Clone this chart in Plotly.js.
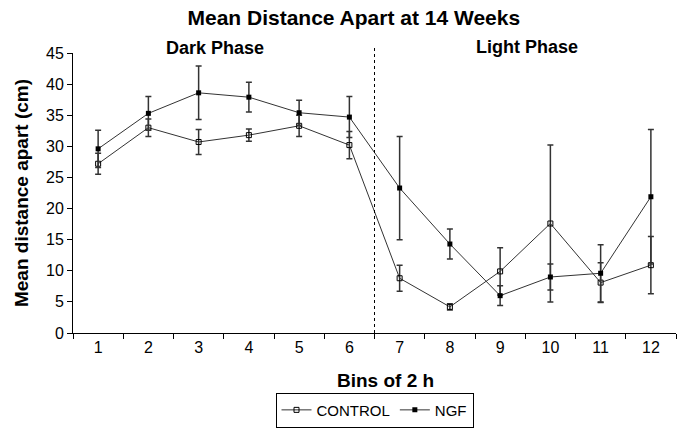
<!DOCTYPE html>
<html>
<head>
<meta charset="utf-8">
<script src="https://cdn.plot.ly/plotly-3.0.1.min.js"></script>
<style>html,body{margin:0;padding:0;background:#fff;}#chart{width:687px;height:429px;}</style>
</head>
<body>
<div id="chart"></div>
<script>
const bins = ["1","2","3","4","5","6","7","8","9","10","11","12"];
const controlMean = [27.2, 33.0, 30.7, 31.8, 33.3, 30.2, 8.8, 4.2, 9.9, 17.6, 8.1, 10.9];
const controlErr  = [1.7, 1.4, 2.0, 1.0, 1.7, 2.2, 2.1, 0.5, 3.8, 12.6, 3.2, 4.6];
const ngfMean     = [29.6, 35.3, 38.6, 37.9, 35.4, 34.7, 23.3, 14.3, 6.0, 9.0, 9.6, 21.9];
const ngfErr      = [3.0, 2.7, 4.3, 2.4, 2.0, 3.3, 8.3, 2.4, 1.6, 2.1, 4.6, 10.8];
const seriesNames = ["CONTROL", "NGF"];
const yTicks = [0,5,10,15,20,25,30,35,40,45];

const FONT = "Liberation Sans, Arial, sans-serif";

const traces = [
  {
    x: bins, y: controlMean, name: seriesNames[0], type: "scatter", mode: "lines+markers",
    line: {color: "#333", width: 1},
    marker: {symbol: "square-open", size: 5, color: "#000", line: {width: 1, color: "#000"}},
    error_y: {type: "data", array: controlErr, visible: true, color: "#333", thickness: 1.5, width: 3}
  },
  {
    x: bins, y: ngfMean, name: seriesNames[1], type: "scatter", mode: "lines+markers",
    line: {color: "#333", width: 1},
    marker: {symbol: "square", size: 5, color: "#000"},
    error_y: {type: "data", array: ngfErr, visible: true, color: "#333", thickness: 1.5, width: 3}
  }
];

const layout = {
  width: 687, height: 429,
  margin: {l: 73, r: 11, t: 53, b: 96},
  paper_bgcolor: "#fff", plot_bgcolor: "#fff",
  font: {family: FONT, color: "#000", size: 15},
  title: {text: "<b>Mean Distance Apart at 14 Weeks</b>", x: 0.515, xanchor: "center", y: 0.958, yanchor: "middle",
          font: {family: FONT, size: 21, color: "#000"}},
  showlegend: true,
  legend: {orientation: "h", x: 0.5, xanchor: "center", y: 0.044, yref: "container", yanchor: "middle",
           bordercolor: "#000", borderwidth: 1, font: {family: FONT, size: 15}, itemwidth: 30,
           tracegroupgap: 0},
  xaxis: {
    type: "category", tickson: "boundaries", range: [-0.5, 11.5],
    showline: true, linecolor: "#000", linewidth: 1,
    ticks: "outside", ticklen: 5, tickcolor: "#000",
    showgrid: false, zeroline: false,
    tickfont: {family: FONT, size: 16}
  },
  yaxis: {
    range: [0, 45], tickvals: yTicks, ticktext: yTicks.map(String),
    showline: true, linecolor: "#000", linewidth: 1,
    ticks: "outside", ticklen: 5, tickcolor: "#000",
    showgrid: false, zeroline: false,
    tickfont: {family: FONT, size: 16},
    title: {text: "<b>Mean distance apart (cm)</b>", font: {family: FONT, size: 19}, standoff: 12}
  },
  shapes: [
    {type: "line", xref: "x", yref: "paper", x0: 5.5, x1: 5.5, y0: 0, y1: 1.022,
     line: {color: "#000", width: 1, dash: "dot"}}
  ],
  annotations: [
    {text: "<b>Dark Phase</b>", xref: "paper", yref: "paper", x: 0.235, y: 1.018, xanchor: "center", yanchor: "middle",
     showarrow: false, font: {family: FONT, size: 18}},
    {text: "<b>Light Phase</b>", xref: "paper", yref: "paper", x: 0.753, y: 1.022, xanchor: "center", yanchor: "middle",
     showarrow: false, font: {family: FONT, size: 18}},
    {text: "<b>Bins of 2 h</b>", xref: "paper", yref: "paper", x: 0.519, y: -0.17, xanchor: "center", yanchor: "middle",
     showarrow: false, font: {family: FONT, size: 19}}
  ]
};

Plotly.newPlot("chart", traces, layout, {displayModeBar: false, staticPlot: true});
</script>
</body>
</html>
